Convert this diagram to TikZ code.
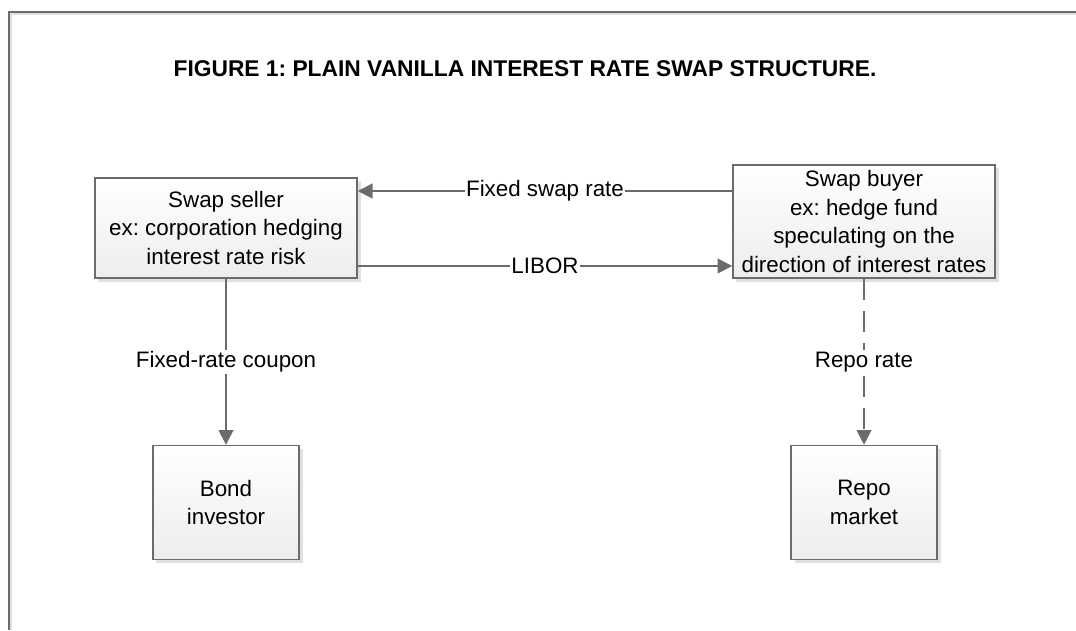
\documentclass[tikz,border=0pt]{standalone}
\usepackage{fontspec}
\setmainfont{Liberation Sans}
\usetikzlibrary{arrows.meta, shadows}
\frenchspacing
\tikzset{>={Triangle[length=10.5pt,width=10.5pt]}}
\tikzset{
  party/.style={draw=black!58, line width=1pt, top color=white, bottom color=black!7,
    drop shadow={shadow xshift=2.5pt, shadow yshift=-2.5pt, fill=black!12, opacity=1},
    align=center, inner sep=0pt, font=\fontsize{15.9}{20.4}\selectfont},
  flow/.style={->, draw=black!58, line width=1.3pt},
  lab/.style={fill=white, inner sep=1pt, font=\fontsize{15.9}{18}\selectfont}
}

\begin{document}
\begin{tikzpicture}[x=0.025cm, y=0.025cm]
    \useasboundingbox (0,0) rectangle (1076,630);
    \draw[black!12, line width=1.5pt] (11,0) -- (11,616) -- (1076,616);
    \draw[black!58, line width=1.5pt] (9,0) -- (9,618) -- (1076,618);

    \node[font=\bfseries\fontsize{16.2}{19}\selectfont] (title) at (525,561)
        {FIGURE 1: PLAIN VANILLA INTEREST RATE SWAP STRUCTURE.};

    \node[party, minimum width=6.55cm, minimum height=2.5cm] (seller) at (226,402)
        {Swap seller\\ex: corporation hedging\\interest rate risk};
    \node[party, minimum width=6.55cm, minimum height=2.83cm] (buyer) at (864,408.5)
        {Swap buyer\\ex: hedge fund\\speculating on the\\direction of interest rates};
    \node[party, minimum width=3.65cm, minimum height=2.85cm] (bond) at (226,127.5)
        {Bond\\investor};
    \node[party, minimum width=3.65cm, minimum height=2.85cm] (repo) at (864,127.5)
        {Repo\\market};

    \draw[flow] (buyer.west |- 0,439) -- node[lab]{Fixed swap rate} (seller.east |- 0,439);
    \draw[flow] (seller.east |- 0,364) -- node[lab]{LIBOR} (buyer.west |- 0,364);
    \draw[flow] (seller.south) -- node[lab]{Fixed-rate coupon} (bond.north);
    \draw[flow, dash pattern=on 15pt off 8pt] (buyer.south) -- node[lab]{Repo rate} (repo.north);
\end{tikzpicture}
\end{document}
